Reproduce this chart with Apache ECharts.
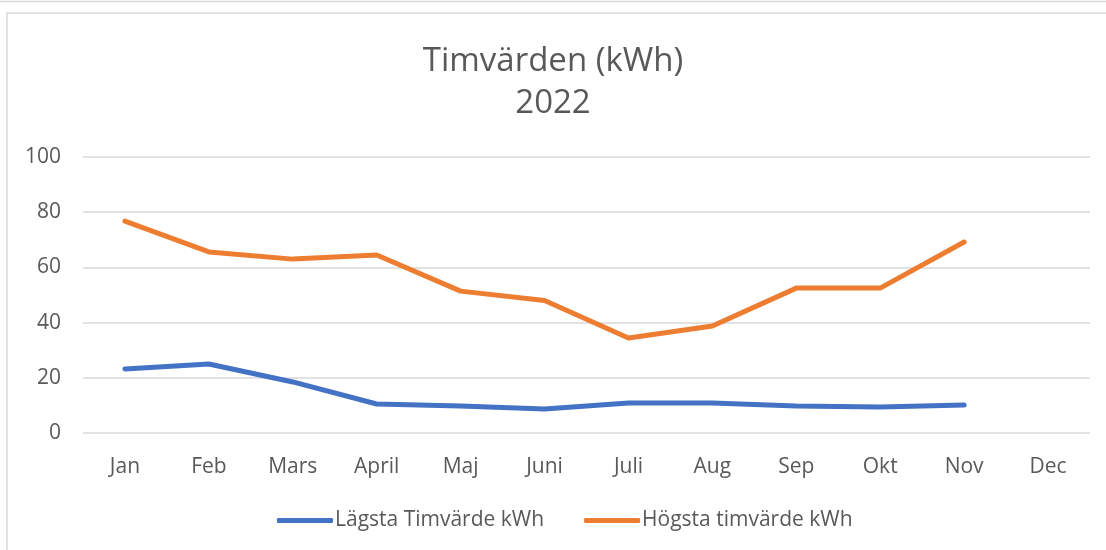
<!DOCTYPE html>
<html>
<head>
<meta charset="utf-8">
<script src="https://cdn.jsdelivr.net/npm/echarts@6/dist/echarts.min.js"></script>
<style>
  html, body { margin: 0; padding: 0; background: #fff; }
  #chart { width: 1106px; height: 550px; }
</style>
</head>
<body>
<div id="chart"></div>
<script>
  // månader
  var months = ['Jan', 'Feb', 'Mars', 'April', 'Maj', 'Juni', 'Juli', 'Aug', 'Sep', 'Okt', 'Nov', 'Dec']
  // lägsta timvärde per månad (Dec saknas)
  var lagsta = [23.2, 25, 18.5, 10.5, 9.8, 8.7, 10.9, 10.9, 9.8, 9.4, 10.1, null]
  // högsta timvärde per månad
  var hogsta = [76.8, 65.6, 63, 64.5, 51.4, 48, 34.4, 38.8, 52.5, 52.5, 69.2, null]
  var yTicks = [0, 20, 40, 60, 80, 100]

  var textColor = '#595959'
  var font = 'Open Sans'

  var myChart = echarts.init(document.getElementById('chart'))
  myChart.setOption({
    backgroundColor: '#fff',
    animation: false,
    graphic: [
      // ram runt diagrammet
      { type: 'line', shape: { x1: 0, y1: 1.5, x2: 1106, y2: 1.5 }, style: { stroke: '#d9d9d9', lineWidth: 1.5 } },
      { type: 'polyline', shape: { points: [[7, 550], [7, 13], [1106, 13]] }, style: { stroke: '#d9d9d9', lineWidth: 1.5, fill: null } }
    ],
    title: {
      text: 'Timvärden (kWh)\n2022',
      left: 'center',
      top: 36,
      textStyle: {
        fontFamily: font,
        fontWeight: 'normal',
        fontSize: 33,
        lineHeight: 42,
        color: textColor
      }
    },
    legend: {
      bottom: 14,
      left: 272,
      itemWidth: 56,
      itemHeight: 5,
      itemGap: 40,
      icon: 'roundRect',
      textStyle: { fontFamily: font, fontSize: 21, color: textColor, padding: [0, 0, 0, -3] },
      data: ['Lägsta Timvärde kWh', 'Högsta timvärde kWh']
    },
    grid: { left: 83, right: 16, top: 157, bottom: 117 },
    xAxis: {
      type: 'category',
      data: months,
      boundaryGap: true,
      axisLine: { show: false },
      axisTick: { show: false },
      axisLabel: { fontFamily: font, fontSize: 21, color: textColor, margin: 24 }
    },
    yAxis: {
      type: 'value',
      min: yTicks[0],
      max: yTicks[yTicks.length - 1],
      interval: 20,
      axisLine: { show: false },
      axisTick: { show: false },
      axisLabel: { fontFamily: font, fontSize: 21, color: textColor, margin: 22 },
      splitLine: { lineStyle: { color: '#d9d9d9', width: 1.5 } }
    },
    series: [
      {
        name: 'Lägsta Timvärde kWh',
        type: 'line',
        data: lagsta,
        symbol: 'none',
        lineStyle: { color: '#4472C4', width: 5, cap: 'round', join: 'round' },
        itemStyle: { color: '#4472C4' }
      },
      {
        name: 'Högsta timvärde kWh',
        type: 'line',
        data: hogsta,
        symbol: 'none',
        lineStyle: { color: '#ED7D31', width: 5, cap: 'round', join: 'round' },
        itemStyle: { color: '#ED7D31' }
      }
    ]
  })
</script>
</body>
</html>
